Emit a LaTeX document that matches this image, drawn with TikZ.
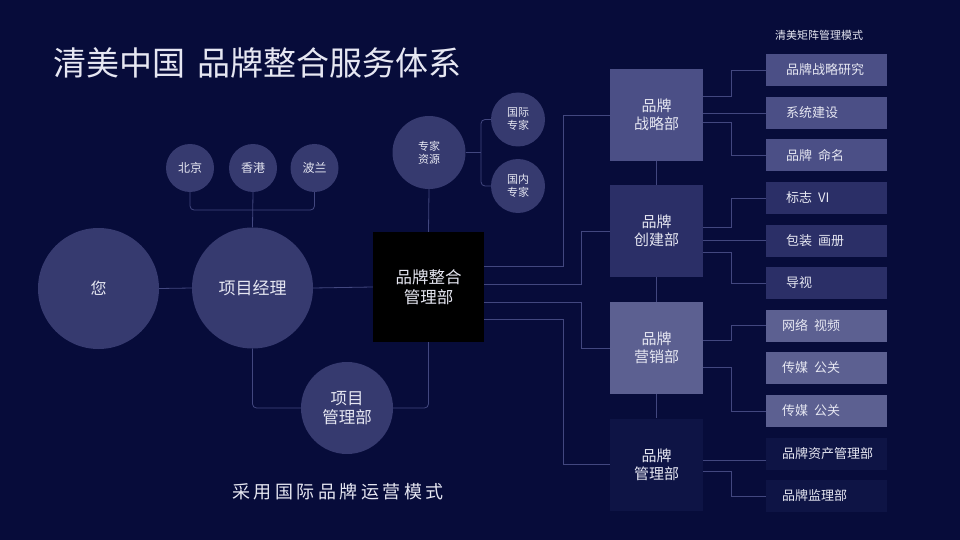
\documentclass[tikz,border=0pt]{standalone}
\usepackage{fontspec}
\setmainfont{Noto Sans CJK SC}
\definecolor{bgc}{HTML}{070C3A}
\definecolor{circc}{HTML}{363A6F}
\definecolor{linec}{HTML}{42477F}
\definecolor{txtc}{HTML}{E6E7F2}
\definecolor{zlc}{HTML}{4B4F86}
\definecolor{cjc}{HTML}{2B2F67}
\definecolor{yxc}{HTML}{5C6091}
\definecolor{glc}{HTML}{0E1445}
\newcommand{\fs}[2]{\fontsize{#1}{#2}\selectfont}
\tikzset{
  circ/.style={circle, fill=circc, inner sep=0pt, text=txtc, align=center},
  dept/.style={rectangle, minimum width=93pt, minimum height=92pt, inner sep=0pt, text=txtc, align=center, font=\fs{15}{18}},
  itemA/.style={rectangle, minimum height=32pt, text width=81pt, inner xsep=20pt, inner ysep=0pt, text=txtc, align=left, anchor=west, font=\fs{13}{16}},
  itemB/.style={itemA, text width=89pt, inner xsep=16pt},
  conn/.style={draw=linec, line width=0.8pt},
  rc/.style={rounded corners=4pt}
}
\begin{document}
\begin{tikzpicture}[x=1pt,y=-1pt]
\fill[bgc] (0,0) rectangle (960,540);
\useasboundingbox (0,0) rectangle (960,540);

% title
\node[anchor=west, inner sep=0pt, text=txtc, font=\fs{33}{36}] (title) at (53,63) {清美中国\hspace{12pt}品牌整合服务体系};
\node[inner sep=0pt, text=txtc, font=\fs{11}{13}] (matrix) at (819,35) {清美矩阵管理模式};
\node[inner sep=0pt, text=txtc, font=\fs{18}{20}] (bottom) at (338,492) {采\hspace{3.5pt}用\hspace{3.5pt}国\hspace{3.5pt}际\hspace{3.5pt}品\hspace{3.5pt}牌\hspace{3.5pt}运\hspace{3.5pt}营\hspace{3.5pt}模\hspace{3.5pt}式};

% circles
\node[circ, minimum size=121pt, font=\fs{16}{18}] (you) at (98.5,288.5) {您};
\node[circ, minimum size=121pt, font=\fs{17}{20}] (pm) at (252.5,288) {项目经理};
\node[circ, minimum size=48pt, font=\fs{12}{14}] (bj) at (190,168) {北京};
\node[circ, minimum size=48pt, font=\fs{12}{14}] (hk) at (253,168) {香港};
\node[circ, minimum size=48pt, font=\fs{12}{14}] (pl) at (314.5,168) {波兰};
\node[circ, minimum size=92pt, font=\fs{16.5}{19.5}] (pmd) at (347,408) {项目\\管理部};
\node[circ, minimum size=73pt, font=\fs{11}{13}] (zj) at (429,152.5) {专家\\资源};
\node[circ, minimum size=54pt, font=\fs{11}{13}] (gj) at (518,119.5) {国际\\专家};
\node[circ, minimum size=54pt, font=\fs{11}{13}] (gn) at (518,186) {国内\\专家};

% black box
\node[rectangle, fill=black, minimum width=111pt, minimum height=110pt, inner sep=0pt, text=txtc, align=center, font=\fs{16.5}{20}] (bb) at (428.5,287) {品牌整合\\管理部};

% departments
\node[dept, fill=zlc] (zl) at (656.5,115) {品牌\\战略部};
\node[dept, fill=cjc] (cj) at (656.5,231) {品牌\\创建部};
\node[dept, fill=yxc] (yx) at (656.5,348) {品牌\\营销部};
\node[dept, fill=glc] (gl) at (656.5,464.5) {品牌\\管理部};

% items
\node[itemA, fill=zlc] (i1) at (766,70) {品牌战略研究};
\node[itemA, fill=zlc] (i2) at (766,113) {系统建设};
\node[itemA, fill=zlc] (i3) at (766,155) {品牌\hspace{6pt}命名};
\node[itemA, fill=cjc] (i4) at (766,198) {标志\hspace{6pt}VI};
\node[itemA, fill=cjc] (i5) at (766,240.5) {包装\hspace{6pt}画册};
\node[itemA, fill=cjc] (i6) at (766,283) {导视};
\node[itemB, fill=yxc] (i7) at (766,325.5) {网络\hspace{6pt}视频};
\node[itemB, fill=yxc] (i8) at (766,368) {传媒\hspace{6pt}公关};
\node[itemB, fill=yxc] (i9) at (766,411) {传媒\hspace{6pt}公关};
\node[itemB, fill=glc] (i10) at (766,453.5) {品牌资产管理部};
\node[itemB, fill=glc] (i11) at (766,496) {品牌监理部};

% left connectors
\coordinate (cb) at (253,210);
\coordinate (eb) at (481,152.5);
\draw[conn] (you.east) -- (pm.west);
\draw[conn] (pm.east) -- (bb.west);
\draw[conn] (hk.south) -- (pm.north);
\draw[conn, rc] (bj.south) |- (cb) -| (pl.south);
\draw[conn, rc] (pm.south) |- (pmd.west);
\draw[conn, rc] (pmd.east) -| (bb.south);
\draw[conn] (zj.south) -- (bb.north);
\draw[conn] (zj.east) -- (eb);
\draw[conn, rc] (gj.west) -| (eb) |- (gn.west);

% black box to departments
\draw[conn] (bb.east |- 0,266) -- (563,266) |- (zl.west);
\draw[conn] (bb.east |- 0,284) -- (581,284) |- (cj.west);
\draw[conn] (bb.east |- 0,302) -- (581,302) |- (yx.west);
\draw[conn] (bb.east |- 0,319) -- (563,319) |- (gl.west);

% department chain
\draw[conn] (zl.south) -- (cj.north);
\draw[conn] (cj.south) -- (yx.north);
\draw[conn] (yx.south) -- (gl.north);

% departments to items
\draw[conn] (zl.east |- 0,96) -- (731,96) |- (i1.west);
\draw[conn] (zl.east |- i2.west) -- (i2.west);
\draw[conn] (zl.east |- 0,122) -- (731,122) |- (i3.west);
\draw[conn] (cj.east |- 0,227) -- (731,227) |- (i4.west);
\draw[conn] (cj.east |- i5.west) -- (i5.west);
\draw[conn] (cj.east |- 0,252) -- (731,252) |- (i6.west);
\draw[conn] (yx.east |- 0,340) -- (731,340) |- (i7.west);
\draw[conn] (yx.east |- 0,367) -- (731,367) |- (i9.west);
\draw[conn] (gl.east |- 0,460) -- (i10.west |- 0,460);
\draw[conn] (gl.east |- 0,471) -- (731,471) |- (i11.west);
\end{tikzpicture}
\end{document}
